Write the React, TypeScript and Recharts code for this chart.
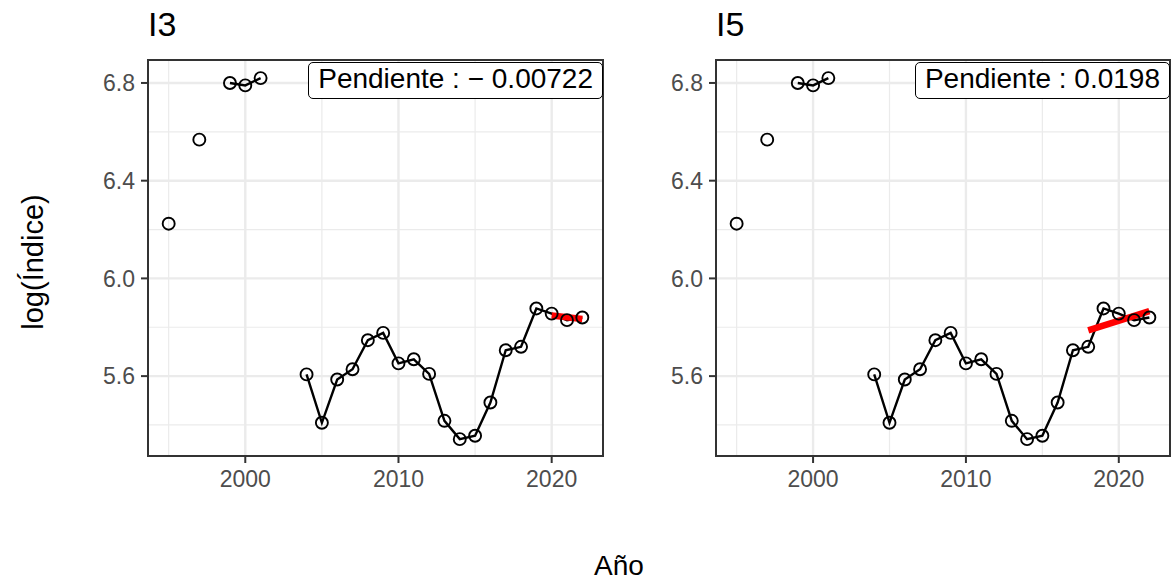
import { ComposedChart, Line, XAxis, YAxis, ReferenceLine } from "recharts";

const years = [
  1995, 1996, 1997, 1998, 1999, 2000, 2001, 2002, 2003, 2004, 2005, 2006, 2007, 2008,
  2009, 2010, 2011, 2012, 2013, 2014, 2015, 2016, 2017, 2018, 2019, 2020, 2021, 2022,
];
const logIndex = [
  6.224, null, 6.568, null, 6.8, 6.79, 6.82, null, null, 5.607, 5.409, 5.586, 5.628, 5.747,
  5.777, 5.652, 5.669, 5.609, 5.417, 5.342, 5.356, 5.492, 5.706, 5.72, 5.877, 5.856, 5.829, 5.84,
];

const fitYearsI3 = [2020, 2022];
const fitValuesI3 = [5.848, 5.834];
const fitYearsI5 = [2018, 2022];
const fitValuesI5 = [5.787, 5.866];

const xMajor = [2000, 2010, 2020];
const xMinor = [1995, 2005, 2015];
const yMajor = [5.6, 6.0, 6.4, 6.8];
const yMinor = [5.4, 5.8, 6.2, 6.6];

const FONT = "'Liberation Sans', Arial, sans-serif";

const data = years.map((year, i) => ({ year, value: logIndex[i] }));

type PanelProps = {
  left: number;
  width: number;
  marginRight: number;
  title: string;
  label: string;
  fitYears: number[];
  fitValues: number[];
};

const Panel = ({ left, width, marginRight, title, label, fitYears, fitValues }: PanelProps) => {
  const fitData = fitYears.map((year, i) => ({ year, fit: fitValues[i] }));
  const plotLeft = 148;
  const plotTop = 60;
  const plotRight = width - marginRight;
  const plotBottom = 456;

  return (
    <div style={{ position: "absolute", left, top: 0, width, height: 500 }}>
      <ComposedChart
        width={width}
        height={500}
        data={data}
        margin={{ top: 60, right: marginRight, left: 98, bottom: 14 }}
      >
        <XAxis
          dataKey="year"
          type="number"
          domain={[1993.65, 2023.35]}
          ticks={xMajor}
          allowDataOverflow
          height={30}
          axisLine={false}
          tickSize={7}
          tickMargin={8}
          tickLine={{ stroke: "#333333", strokeWidth: 2 }}
          tick={{ fill: "#4D4D4D", fontSize: 23, fontFamily: FONT }}
        />
        <YAxis
          type="number"
          domain={[5.273, 6.894]}
          ticks={yMajor}
          allowDataOverflow
          width={50}
          axisLine={false}
          tickSize={7}
          tickMargin={6}
          tickLine={{ stroke: "#333333", strokeWidth: 2 }}
          tick={{ fill: "#4D4D4D", fontSize: 23, fontFamily: FONT }}
          tickFormatter={(v: number) => v.toFixed(1)}
        />

        {/* grid */}
        {xMinor.map((x) => (
          <ReferenceLine key={"xm" + x} x={x} stroke="#EBEBEB" strokeWidth={1.2} />
        ))}
        {yMinor.map((y) => (
          <ReferenceLine key={"ym" + y} y={y} stroke="#EBEBEB" strokeWidth={1.2} />
        ))}
        {xMajor.map((x) => (
          <ReferenceLine key={"xM" + x} x={x} stroke="#EBEBEB" strokeWidth={2.4} />
        ))}
        {yMajor.map((y) => (
          <ReferenceLine key={"yM" + y} y={y} stroke="#EBEBEB" strokeWidth={2.4} />
        ))}

        <Line
          dataKey="value"
          stroke="#000000"
          strokeWidth={2.4}
          connectNulls={false}
          dot={{ r: 6, stroke: "#000000", strokeWidth: 1.9, fill: "none" }}
          activeDot={false}
          isAnimationActive={false}
        />
        <Line
          data={fitData}
          dataKey="fit"
          stroke="#FF0000"
          strokeWidth={6.5}
          dot={false}
          activeDot={false}
          isAnimationActive={false}
        />
      </ComposedChart>

      {/* panel border */}
      <div
        style={{
          position: "absolute",
          left: plotLeft - 1,
          top: plotTop - 1,
          width: plotRight - plotLeft + 2,
          height: plotBottom - plotTop + 2,
          border: "2px solid #333333",
          boxSizing: "border-box",
          pointerEvents: "none",
        }}
      />

      {/* slope label */}
      <div
        style={{
          position: "absolute",
          right: width - plotRight,
          top: 62,
          height: 37,
          boxSizing: "border-box",
          border: "1.5px solid #000000",
          borderRadius: 5,
          background: "#FFFFFF",
          padding: "0 9px",
          fontFamily: FONT,
          fontSize: 28,
          lineHeight: "32px",
          whiteSpace: "nowrap",
          color: "#000000",
        }}
      >
        {label}
      </div>

      {/* title */}
      <div
        style={{
          position: "absolute",
          left: plotLeft,
          top: 4,
          fontFamily: FONT,
          fontSize: 34,
          lineHeight: "40px",
          color: "#000000",
        }}
      >
        {title}
      </div>
    </div>
  );
};

const App = () => {
  return (
    <>
      <style>{"body{margin:0;}"}</style>
      <div
        style={{
          position: "relative",
          width: 1171,
          height: 580,
          overflow: "hidden",
          background: "#FFFFFF",
          fontFamily: FONT,
        }}
      >
        <Panel
          left={0}
          width={610}
          marginRight={7}
          title="I3"
          label={"Pendiente : \u2212 0.00722"}
          fitYears={fitYearsI3}
          fitValues={fitValuesI3}
        />
        <Panel
          left={568}
          width={603}
          marginRight={1}
          title="I5"
          label={"Pendiente : 0.0198"}
          fitYears={fitYearsI5}
          fitValues={fitValuesI5}
        />

        <svg
          width={1171}
          height={580}
          style={{ position: "absolute", left: 0, top: 0, pointerEvents: "none" }}
        >
          <text
            x={0}
            y={0}
            transform="translate(43,262) rotate(-90)"
            textAnchor="middle"
            fontFamily={FONT}
            fontSize={29}
            fill="#000000"
          >
            log(Índice)
          </text>
          <text x={619} y={575} textAnchor="middle" fontFamily={FONT} fontSize={28} fill="#000000">
            Año
          </text>
        </svg>
      </div>
    </>
  );
};

export default App;
